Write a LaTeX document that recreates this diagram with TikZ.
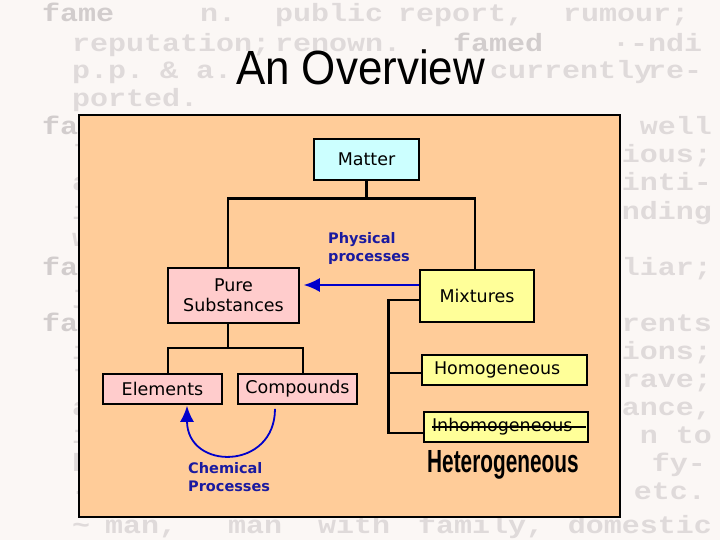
\documentclass[tikz,border=0pt]{standalone}
\usepackage{fontspec}
\setmainfont{DejaVu Sans}
\newfontfamily\titlefont{Liberation Sans}
\newfontfamily\bgfont{Liberation Mono}
\newfontfamily\handfont{Liberation Sans}
\usetikzlibrary{arrows.meta}
\definecolor{bgpage}{HTML}{FBF7F5}
\definecolor{bgtext}{HTML}{DFDADA}
\definecolor{bghead}{HTML}{D2CDCD}
\definecolor{framefill}{HTML}{FFCC99}
\definecolor{cyanbox}{HTML}{CCFFFF}
\definecolor{pinkbox}{HTML}{FFCCCC}
\definecolor{yellowbox}{HTML}{FFFF99}
\definecolor{navy}{HTML}{1A1AA0}
\definecolor{arrowblue}{HTML}{0000CC}
\newcommand{\bgw}[1]{\scalebox{1.2}[1]{#1}}
\begin{document}
\begin{tikzpicture}[x=1pt,y=-1pt,
  bg/.style={font=\bgfont\bfseries\fontsize{25}{25}\selectfont, text=bgtext, inner sep=0pt, anchor=base west},
  bgr/.style={bg, anchor=base east},
  bgh/.style={bg, text=bghead},
  box/.style={draw=black, line width=1.6pt, inner sep=0pt, font=\fontsize{17.5}{20}\selectfont, align=center},
  conn/.style={line width=2.6pt, black, line join=miter},
  lbl/.style={font=\bfseries\fontsize{14.5}{18}\selectfont, text=navy, align=left, inner sep=0pt, anchor=north west},
  parrow/.style={line width=1.8pt, arrowblue, -{Latex[length=16pt,width=14pt]}},
]
\useasboundingbox (0,0) rectangle (720,540);
\fill[bgpage] (0,0) rectangle (720,540);

% faint background page
\node[bgh] (b1a) at (42,22) {\bgw{fame}};
\node[bg] (b1b) at (200,22) {\bgw{n.}};
\node[bg] (b1c) at (275,22) {\bgw{public}};
\node[bg] (b1d) at (398,22) {\bgw{report,}};
\node[bg] (b1e) at (563,22) {\bgw{rumour;}};
\node[bg] (b2a) at (72,52) {\bgw{reputation;}};
\node[bg] (b2b) at (275,52) {\bgw{renown.}};
\node[bgh] (b2c) at (453,52) {\bgw{famed}};
\node[bg] (b2d) at (612,52) {\bgw{·-ndi}};
\node[bg] (b3a) at (72,79) {\bgw{p.p.}};
\node[bg] (b3b) at (160,79) {\bgw{\&}};
\node[bg] (b3c) at (196,79) {\bgw{a.}};
\node[bg] (b3d) at (490,79) {\bgw{currently}};
\node[bg] (b3e) at (648,79) {\bgw{re-}};
\node[bg] (b4a) at (72,107) {\bgw{ported.}};
\node[bgh] (l5) at (42,135) {\bgw{fa}};
\node[bg] (l6) at (72,163) {\bgw{l}};
\node[bg] (l7) at (72,191) {\bgw{a}};
\node[bg] (l8) at (72,219) {\bgw{i}};
\node[bg] (l9) at (72,247) {\bgw{w}};
\node[bgh] (l10) at (42,275) {\bgw{fa}};
\node[bg] (l11) at (72,303) {\bgw{j}};
\node[bgh] (l12) at (42,331) {\bgw{fa}};
\node[bg] (l13) at (72,359) {\bgw{i}};
\node[bg] (l14) at (72,387) {\bgw{l}};
\node[bg] (l15) at (72,415) {\bgw{a}};
\node[bg] (l16) at (72,443) {\bgw{i}};
\node[bg] (l17) at (72,471) {\bgw{b}};
\node[bg] (l18) at (72,499) {\bgw{-}};
\node[bgr] (r5) at (712,135) {\bgw{well}};
\node[bgr] (r6) at (712,163) {\bgw{ious;}};
\node[bgr] (r7) at (712,191) {\bgw{inti-}};
\node[bgr] (r8) at (712,219) {\bgw{nding}};
\node[bgr] (r10) at (712,275) {\bgw{liar;}};
\node[bgr] (r12) at (712,331) {\bgw{rents}};
\node[bgr] (r13) at (712,359) {\bgw{ions;}};
\node[bgr] (r14) at (712,387) {\bgw{rave;}};
\node[bgr] (r15) at (712,415) {\bgw{ance,}};
\node[bgr] (r16) at (712,443) {\bgw{n to}};
\node[bgr] (r17) at (706,471) {\bgw{fy-}};
\node[bgr] (r18) at (706,499) {\bgw{etc.}};
\node[bg] (b19a) at (72,533) {\bgw{\textasciitilde}};
\node[bg] (b19b) at (105,533) {\bgw{man,}};
\node[bg] (b19c) at (228,533) {\bgw{man}};
\node[bg] (b19d) at (318,533) {\bgw{with}};
\node[bg] (b19e) at (418,533) {\bgw{family,}};
\node[bgr] (b19f) at (712,533) {\bgw{domestic}};

% title
\node[font=\titlefont\fontsize{48}{48}\selectfont, anchor=base, inner sep=0pt] (title) at (360.5,85) {\scalebox{0.915}[1]{An Overview}};

% frame
\draw[fill=framefill, line width=2pt] (79,115) rectangle (620,517);

% boxes
\node[box, fill=cyanbox, minimum width=105pt, minimum height=41pt] (matter) at (366.5,159.5) {Matter};
\node[box, fill=pinkbox, minimum width=131pt, minimum height=55pt] (pure) at (233.5,295.5) {Pure\\Substances};
\node[box, fill=yellowbox, minimum width=114pt, minimum height=52pt] (mix) at (477,296) {Mixtures};
\node[box, fill=pinkbox, minimum width=119pt, minimum height=30pt] (elem) at (162.5,389) {Elements};
\node[box, fill=pinkbox, minimum width=119pt, minimum height=30pt] (comp) at (297.5,389) {Compounds};
\node[box, fill=yellowbox, minimum width=165pt, minimum height=30pt, text width=141pt, align=left] (homo) at (504.5,370) {Homogeneous};
\node[box, fill=yellowbox, minimum width=164pt, minimum height=30pt, text width=148pt, align=left] (inh) at (506,427) {Inhomogeneous};
\draw[line width=2pt] ([xshift=9pt]inh.west) -- ([xshift=-3pt]inh.east);
\node[font=\handfont\bfseries\fontsize{32}{32}\selectfont, inner sep=0pt, anchor=base west] (het) at (427,472) {\scalebox{0.65}[1]{Heterogeneous}};

% tree connectors
\draw[conn] (matter.south) -- ++(0,17.5) coordinate (mj);
\coordinate (pl) at ([xshift=-5.5pt]pure.north);
\coordinate (mr) at ([xshift=-2pt]mix.north);
\draw[conn] (pl) |- (mj) -| (mr);
\draw[conn] ([xshift=-5.5pt]pure.south) -- ++(0,24) coordinate (pj);
\draw[conn] ([xshift=5.5pt]elem.north) |- (pj) -| ([xshift=5.5pt]comp.north);
\draw[conn] ([yshift=-4pt]mix.west) -- ++(-31,0) coordinate (mxj) |- ([yshift=-6pt]inh.west);
\draw[conn] (mxj) |- ([yshift=-3pt]homo.west);

% physical processes
\coordinate (pa) at ([yshift=11pt]mix.west);
\draw[parrow, shorten >=4pt] (pa) -- (pa -| pure.east);
\node[lbl] (phys) at (328,232) {Physical\\processes};

% chemical processes
\draw[parrow] ([xshift=-22.5pt,yshift=-4pt]comp.south) .. controls +(0,62) and +(0,65) .. ([xshift=24.5pt,yshift=-1pt]elem.south);
\node[lbl] (chem) at (188,462) {Chemical\\Processes};
\end{tikzpicture}
\end{document}
